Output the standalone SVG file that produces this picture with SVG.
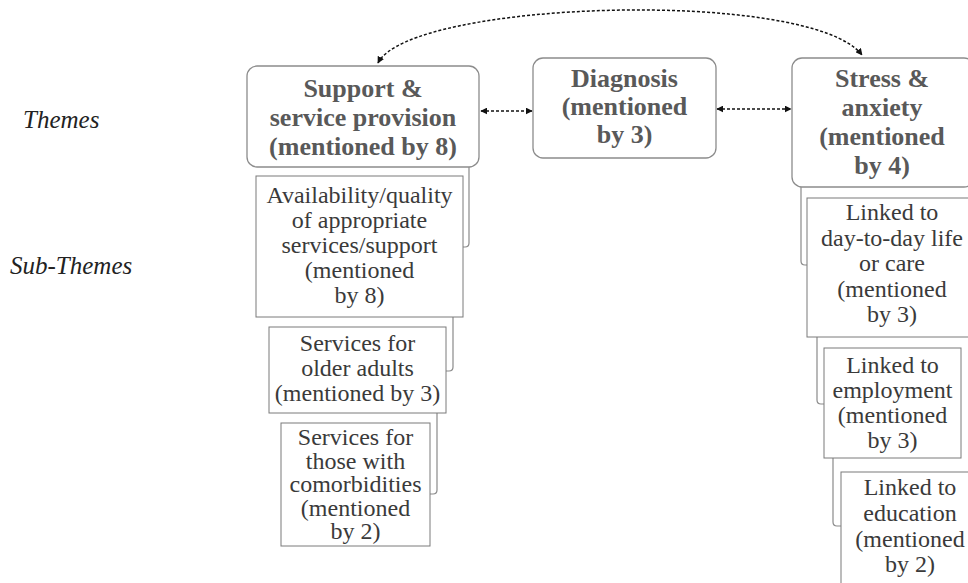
<svg xmlns="http://www.w3.org/2000/svg" width="968" height="583" viewBox="0 0 968 583" font-family="Liberation Serif, Times New Roman, DejaVu Serif, serif">
<style>
  .theme rect { fill: #ffffff; stroke: #8c8c8c; stroke-width: 1.3; }
  .sub rect { fill: #ffffff; stroke: #7a7a7a; stroke-width: 1; }
  .tt { font-weight: bold; font-size: 26px; fill: #595959; text-anchor: middle; }
  .st { font-size: 24px; fill: #3a3a3a; text-anchor: middle; }
  .lbl { font-style: italic; font-size: 25px; fill: #222222; }
  .bracket { fill: none; stroke: #8a8a8a; stroke-width: 1.2; }
  .dash { fill: none; stroke: #111111; stroke-width: 1.5; stroke-dasharray: 3 2; marker-start: url(#ah); marker-end: url(#ah); }
</style>
<defs>
  <marker id="ah" viewBox="0 0 10 10" refX="9" refY="5" markerWidth="7" markerHeight="7" markerUnits="userSpaceOnUse" orient="auto-start-reverse">
    <path d="M0,0 L10,5 L0,10 z" fill="#111111"/>
  </marker>
</defs>
<rect width="968" height="583" fill="#ffffff"/>

<g id="label-themes"><text class="lbl" x="23" y="128">Themes</text></g>
<g id="label-subthemes"><text class="lbl" x="10" y="274">Sub-Themes</text></g>

<g id="connectors">
  <path class="dash" d="M378,63 C410,0 810,-12 862,55"/>
  <path class="dash" d="M481,111 H532"/>
  <path class="dash" d="M717,109 H791"/>
  <path class="bracket" d="M469,167 V243 Q469,247 465,247 H463"/>
  <path class="bracket" d="M453,317 V367 Q453,371 449,371 H446"/>
  <path class="bracket" d="M437,413 V490 Q437,494 433,494 H430"/>
  <path class="bracket" d="M801,187 V261 Q801,265 805,265 H807"/>
  <path class="bracket" d="M817,337 V400 Q817,404 821,404 H824"/>
  <path class="bracket" d="M833,458 V522 Q833,526 837,526 H841"/>
</g>

<g id="support" class="theme">
  <rect x="247" y="66" width="232" height="101" rx="10"/>
  <text class="tt" x="363" y="97">Support &amp;</text>
  <text class="tt" x="363" y="126">service provision</text>
  <text class="tt" x="363" y="155">(mentioned by 8)</text>
</g>
<g id="diagnosis" class="theme">
  <rect x="533" y="58" width="183" height="100" rx="10"/>
  <text class="tt" x="624.5" y="87">Diagnosis</text>
  <text class="tt" x="624.5" y="115">(mentioned</text>
  <text class="tt" x="624.5" y="143">by 3)</text>
</g>
<g id="stress" class="theme">
  <rect x="792" y="58" width="182" height="129" rx="10"/>
  <text class="tt" x="882" y="87">Stress &amp;</text>
  <text class="tt" x="882" y="116">anxiety</text>
  <text class="tt" x="882" y="145">(mentioned</text>
  <text class="tt" x="882" y="174">by 4)</text>
</g>

<g id="availability" class="sub">
  <rect x="256" y="176" width="207" height="141"/>
  <text class="st" x="359.5" y="203">Availability/quality</text>
  <text class="st" x="359.5" y="228">of appropriate</text>
  <text class="st" x="359.5" y="253">services/support</text>
  <text class="st" x="359.5" y="278">(mentioned</text>
  <text class="st" x="359.5" y="303">by 8)</text>
</g>
<g id="older-adults" class="sub">
  <rect x="269" y="327" width="177" height="86"/>
  <text class="st" x="357.5" y="351">Services for</text>
  <text class="st" x="357.5" y="376">older adults</text>
  <text class="st" x="357.5" y="401">(mentioned by 3)</text>
</g>
<g id="comorbidities" class="sub">
  <rect x="281" y="423" width="149" height="123"/>
  <text class="st" x="355.5" y="445">Services for</text>
  <text class="st" x="355.5" y="468.5">those with</text>
  <text class="st" x="355.5" y="492">comorbidities</text>
  <text class="st" x="355.5" y="515.5">(mentioned</text>
  <text class="st" x="355.5" y="539">by 2)</text>
</g>
<g id="day-to-day" class="sub">
  <rect x="807" y="198" width="175" height="139"/>
  <text class="st" x="892" y="220">Linked to</text>
  <text class="st" x="892" y="245.5">day-to-day life</text>
  <text class="st" x="892" y="271">or care</text>
  <text class="st" x="892" y="296.5">(mentioned</text>
  <text class="st" x="892" y="322">by 3)</text>
</g>
<g id="employment" class="sub">
  <rect x="824" y="348" width="137" height="110"/>
  <text class="st" x="892.5" y="373">Linked to</text>
  <text class="st" x="892.5" y="398">employment</text>
  <text class="st" x="892.5" y="423">(mentioned</text>
  <text class="st" x="892.5" y="448">by 3)</text>
</g>
<g id="education" class="sub">
  <rect x="841" y="472" width="140" height="130"/>
  <text class="st" x="910" y="495">Linked to</text>
  <text class="st" x="910" y="521">education</text>
  <text class="st" x="910" y="547">(mentioned</text>
  <text class="st" x="910" y="572">by 2)</text>
</g>
</svg>
